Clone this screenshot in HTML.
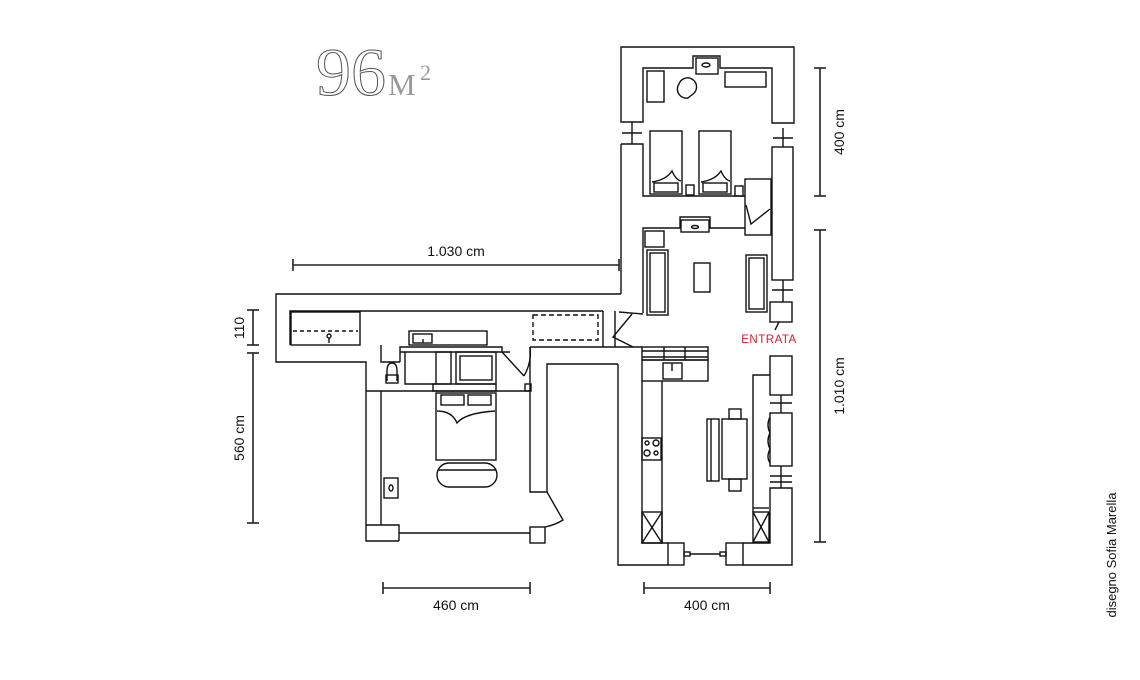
<!DOCTYPE html>
<html><head><meta charset="utf-8"><style>
html,body{margin:0;padding:0;background:#fff;}
svg{display:block;}
.s{font-family:"Liberation Sans",sans-serif;}
</style></head><body>
<svg width="1140" height="680" viewBox="0 0 1140 680" xmlns="http://www.w3.org/2000/svg">
<rect width="1140" height="680" fill="#fff"/>
<g fill="none" stroke="#111" stroke-width="1.4" stroke-linejoin="miter">
<polygon points="621,47 794,47 794,123 772,123 772,68 720,68 720,56 693,56 693,68 643,68 643,122 621,122"/>
<line x1="632" y1="122" x2="632" y2="144"/><line x1="622" y1="133" x2="642" y2="133"/>
<line x1="783" y1="128" x2="783" y2="147"/><line x1="773" y1="138" x2="793" y2="138"/>
<rect x="696" y="58" width="22" height="16"/><ellipse cx="706" cy="65" rx="4" ry="2"/>
<rect x="647" y="71" width="17" height="31"/>
<rect x="725" y="72" width="41" height="15"/>
<path d="M679,84 a9,9 0 1 1 14,10 l-5,4 a9,9 0 0 1 -9,-14z"/>
<rect x="650" y="131" width="32" height="63"/><rect x="699" y="131" width="32" height="63"/>
<path d="M652,182 q14,-2 20,-11 q4,9 9,10"/><rect x="654" y="183" width="24" height="9"/>
<path d="M701,182 q14,-2 20,-11 q4,9 9,10"/><rect x="703" y="183" width="24" height="9"/>
<rect x="686" y="185" width="8" height="10"/><rect x="735" y="186" width="8" height="10"/>
<polyline points="621,144 643,144 643,196 745,196"/>
<polyline points="643,313 643,228 680,228 680,217 710,217 710,228 745,228"/>
<rect x="745" y="179" width="26" height="56"/>
<polyline points="746,205 751,224 770,209"/>
<rect x="681" y="220" width="28" height="12"/><ellipse cx="695" cy="227" rx="3.5" ry="1.5"/>
<line x1="621" y1="144" x2="621" y2="294"/>
<rect x="772" y="147" width="21" height="133"/>
<line x1="783" y1="280" x2="783" y2="302"/><line x1="772" y1="290" x2="793" y2="290"/>
<rect x="770" y="302" width="22" height="20"/>
<line x1="779" y1="322" x2="775" y2="330"/>
<rect x="645" y="231" width="19" height="16"/>
<rect x="647" y="250" width="21" height="65"/><rect x="650" y="253" width="15" height="59"/>
<rect x="694" y="263" width="16" height="29"/>
<rect x="746" y="255" width="21" height="57"/><rect x="749" y="258" width="15" height="51"/>
<polyline points="621,294 276,294 276,362 366,362 366,541 399,541"/>
<polyline points="603,311 290,311 290,345"/>
<rect x="291" y="312" width="69" height="33"/>
<line x1="293" y1="331" x2="358" y2="331" stroke-dasharray="4,3"/>
<circle cx="329" cy="336" r="2"/><line x1="329" y1="338" x2="329" y2="343"/>
<polyline points="381,345 381,362 400,362"/>
<rect x="533" y="315" width="65" height="25" stroke-dasharray="5,3"/>
<line x1="603" y1="311" x2="603" y2="347"/><line x1="615" y1="311" x2="615" y2="347"/>
<polyline points="619,312 643,314"/>
<polyline points="632,314 613,337 633,347"/>
<line x1="530" y1="347" x2="642" y2="347"/>
<rect x="409" y="331" width="78" height="14"/>
<rect x="413" y="334" width="19" height="9"/>
<line x1="423" y1="339" x2="423" y2="343"/>
<polyline points="400,362 400,347 502,347 502,352 510,352"/>
<line x1="400" y1="352" x2="502" y2="352"/>
<polyline points="405,352 405,384 436,384"/>
<rect x="436" y="352" width="15" height="32"/>
<rect x="456" y="352" width="40" height="32"/><rect x="460" y="356" width="32" height="24"/>
<rect x="433" y="384" width="63" height="7"/>
<polyline points="502,352 524,376"/>
<path d="M530,347 q2,15 -6,29"/>
<polyline points="530,347 530,391"/>
<rect x="525" y="384" width="6" height="7"/>
<path d="M387,381 l0,-10 q0,-8 5,-8 q5,0 5,8 l0,10"/><rect x="386" y="375" width="12" height="8"/>
<polyline points="366,391 530,391"/>
<line x1="381" y1="391" x2="381" y2="525"/>
<polyline points="366,525 399,525 399,541"/>
<line x1="399" y1="533" x2="530" y2="533"/>
<rect x="384" y="478" width="14" height="20"/><ellipse cx="391" cy="488" rx="2" ry="3"/>
<rect x="436" y="393" width="60" height="67"/>
<rect x="441" y="395" width="23" height="10"/><rect x="468" y="395" width="23" height="10"/>
<path d="M437,411 q15,0 20,12 q8,-10 38,-12"/>
<rect x="437" y="463" width="60" height="24" rx="12"/>
<line x1="438" y1="470" x2="496" y2="470"/>
<polyline points="530,391 530,492 547,492 547,364 618,364"/>
<rect x="530" y="527" width="15" height="16"/>
<path d="M547,492 L563,520 q-8,5 -18,7"/>
<polyline points="618,364 618,565 668,565"/>
<rect x="642" y="347" width="66" height="13"/>
<line x1="642" y1="351" x2="708" y2="351"/><line x1="642" y1="357" x2="708" y2="357"/>
<line x1="664" y1="347" x2="664" y2="360"/><line x1="685" y1="347" x2="685" y2="360"/>
<rect x="642" y="360" width="66" height="21"/>
<rect x="663" y="363" width="19" height="16"/><line x1="672" y1="363" x2="672" y2="371"/>
<polyline points="642,381 642,543 668,543"/>
<line x1="662" y1="381" x2="662" y2="543"/>
<rect x="642" y="438" width="19" height="22"/>
<circle cx="647" cy="443" r="2"/><circle cx="656" cy="443" r="3"/><circle cx="647" cy="453" r="3"/><circle cx="656" cy="453" r="2"/>
<rect x="642" y="512" width="20" height="31"/>
<line x1="642" y1="512" x2="662" y2="543"/><line x1="662" y1="512" x2="642" y2="543"/>
<rect x="668" y="543" width="16" height="22"/>
<rect x="684" y="552" width="6" height="4"/>
<line x1="690" y1="554" x2="720" y2="554"/>
<rect x="720" y="552" width="6" height="4"/>
<rect x="726" y="543" width="17" height="22"/>
<polyline points="743,565 792,565 792,488 770,488 770,543 743,543"/>
<rect x="753" y="512" width="16" height="30"/>
<line x1="753" y1="512" x2="769" y2="542"/><line x1="769" y1="512" x2="753" y2="542"/>
<line x1="753" y1="508" x2="769" y2="508"/>
<polyline points="753,512 753,375 770,375"/>
<rect x="770" y="356" width="22" height="39"/>
<line x1="781" y1="395" x2="781" y2="413"/><line x1="770" y1="403" x2="792" y2="403"/>
<rect x="770" y="413" width="22" height="53"/>
<path d="M770,417 q-4,8 0,16 q-4,8 0,16 q-4,8 0,14"/>
<line x1="781" y1="466" x2="781" y2="488"/><line x1="770" y1="476" x2="792" y2="476"/>
<line x1="770" y1="482" x2="792" y2="482"/>
<rect x="707" y="419" width="12" height="62"/><line x1="711" y1="419" x2="711" y2="481"/>
<rect x="722" y="419" width="25" height="60"/>
<rect x="729" y="409" width="12" height="10"/><rect x="729" y="479" width="12" height="12"/>
</g>
<g stroke="#222" stroke-width="1.6">
<line x1="293" y1="265" x2="619" y2="265"/><line x1="293" y1="259" x2="293" y2="271"/><line x1="619" y1="259" x2="619" y2="271"/>
<line x1="253" y1="310" x2="253" y2="345"/><line x1="247" y1="310" x2="259" y2="310"/><line x1="247" y1="345" x2="259" y2="345"/>
<line x1="253" y1="353" x2="253" y2="523"/><line x1="247" y1="353" x2="259" y2="353"/><line x1="247" y1="523" x2="259" y2="523"/>
<line x1="383" y1="588" x2="530" y2="588"/><line x1="383" y1="582" x2="383" y2="594"/><line x1="530" y1="582" x2="530" y2="594"/>
<line x1="644" y1="588" x2="770" y2="588"/><line x1="644" y1="582" x2="644" y2="594"/><line x1="770" y1="582" x2="770" y2="594"/>
<line x1="820" y1="68" x2="820" y2="196"/><line x1="814" y1="68" x2="826" y2="68"/><line x1="814" y1="196" x2="826" y2="196"/>
<line x1="820" y1="230" x2="820" y2="542"/><line x1="814" y1="230" x2="826" y2="230"/><line x1="814" y1="542" x2="826" y2="542"/>
</g>
<g class="s" font-size="14" fill="#111">
<text x="456" y="256" text-anchor="middle">1.030 cm</text>
<text x="456" y="610" text-anchor="middle">460 cm</text>
<text x="707" y="610" text-anchor="middle">400 cm</text>
<text transform="translate(244,328) rotate(-90)" text-anchor="middle">110</text>
<text transform="translate(244,438) rotate(-90)" text-anchor="middle">560 cm</text>
<text transform="translate(844,132) rotate(-90)" text-anchor="middle">400 cm</text>
<text transform="translate(844,386) rotate(-90)" text-anchor="middle">1.010 cm</text>
<text transform="translate(1116,555) rotate(-90)" text-anchor="middle" font-size="13">disegno Sofia Marella</text>
</g>
<text class="s" x="769" y="343" text-anchor="middle" font-size="11.5" fill="#d0202a" letter-spacing="0.5">ENTRATA</text>
<text x="316" y="95" style="font-family:'Liberation Serif',serif;font-size:68px" fill="none" stroke="#555" stroke-width="1" textLength="70" lengthAdjust="spacingAndGlyphs">96</text>
<text x="388" y="95" style="font-family:'Liberation Serif',serif;font-size:31px" fill="#999">M</text>
<text x="420" y="80" style="font-family:'Liberation Serif',serif;font-size:22px" fill="#999">2</text>
</svg>
</body></html>
